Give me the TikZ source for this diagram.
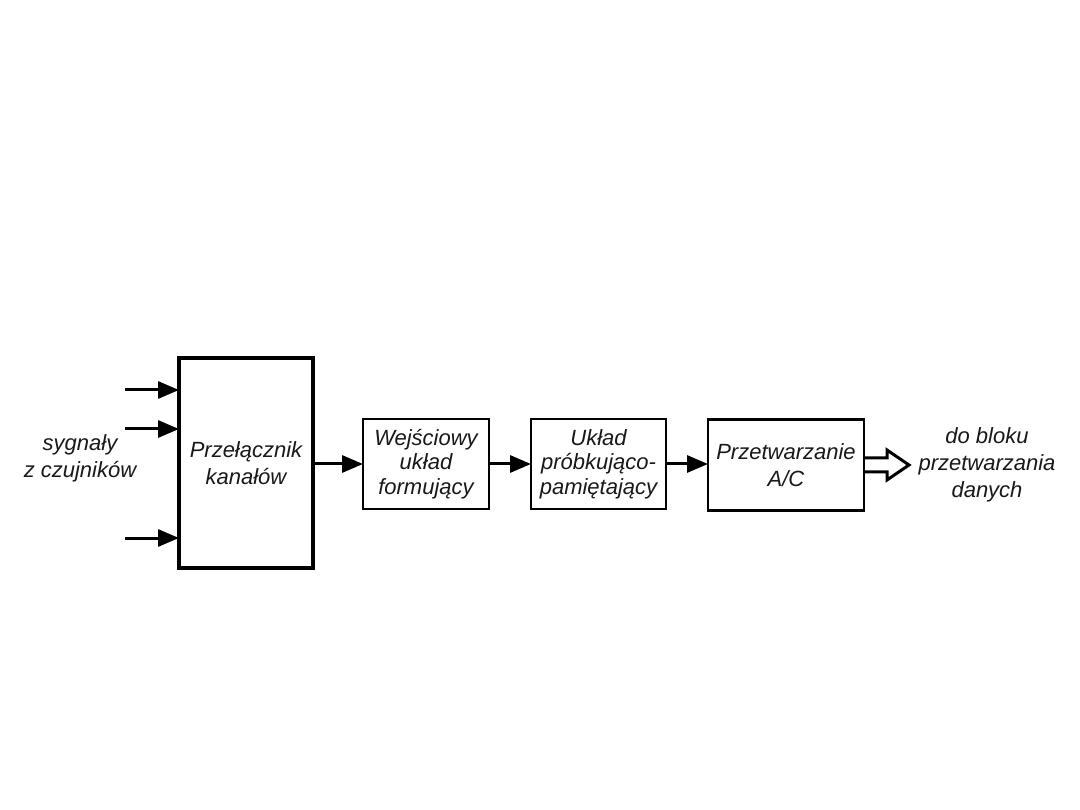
\documentclass[tikz,border=0pt]{standalone}
\usepackage{fontspec}
\setmainfont{Liberation Sans}
\usetikzlibrary{arrows.meta}
\begin{document}
\begin{tikzpicture}[x=1pt,y=-1pt,
  every node/.style={inner sep=0pt,outer sep=0pt},
  txt/.style={font=\fontsize{22}{27}\selectfont\itshape,align=center,text=black!90},
  tight/.style={font=\fontsize{22}{24.5}\selectfont\itshape},
  blk/.style={draw,line width=2.5pt,txt,anchor=center},
  bigblk/.style={draw,line width=4.5pt,txt,anchor=center},
  sig/.style={line width=3pt,-{Triangle[length=21pt,width=17pt]}},
  hollow/.style={line width=3pt,line join=miter}]
\useasboundingbox[fill=white] (0,0) rectangle (1080,810);
\node[bigblk,minimum width=134pt,minimum height=210pt] (sw) at (246,463) {Przełącznik\\kanałów};
\node[blk,tight,minimum width=126pt,minimum height=90pt] (wu) at (426,464) {Wejściowy\\układ\\formujący};
\node[blk,tight,minimum width=135pt,minimum height=90pt] (sh) at (598.5,464) {Układ\\próbkująco-\\pamiętający};
\node[blk,minimum width=156pt,minimum height=91pt] (ac) at (786,465) {Przetwarzanie\\A/C};
\node[txt] (lin) at (80,458) {sygnały\\z czujników};
\node[txt] (lout) at (987,465) {do bloku\\przetwarzania\\danych};
\coordinate (i1) at (125,390);
\coordinate (i2) at (125,429);
\coordinate (i3) at (125,538);
\draw[sig] (i1) -- (i1 -| sw.west);
\draw[sig] (i2) -- (i2 -| sw.west);
\draw[sig] (i3) -- (i3 -| sw.west);
\draw[sig] (sw.east |- wu.west) -- (wu.west);
\draw[sig] (wu.east) -- (sh.west);
\draw[sig] (sh.east) -- (sh.east -| ac.west);
\draw[hollow] (ac.east) ++(0,-7) -- ++(23,0) -- ++(0,-8) -- ++(22,15) -- ++(-22,15) -- ++(0,-8) -- ++(-23,0);
\end{tikzpicture}
\end{document}
